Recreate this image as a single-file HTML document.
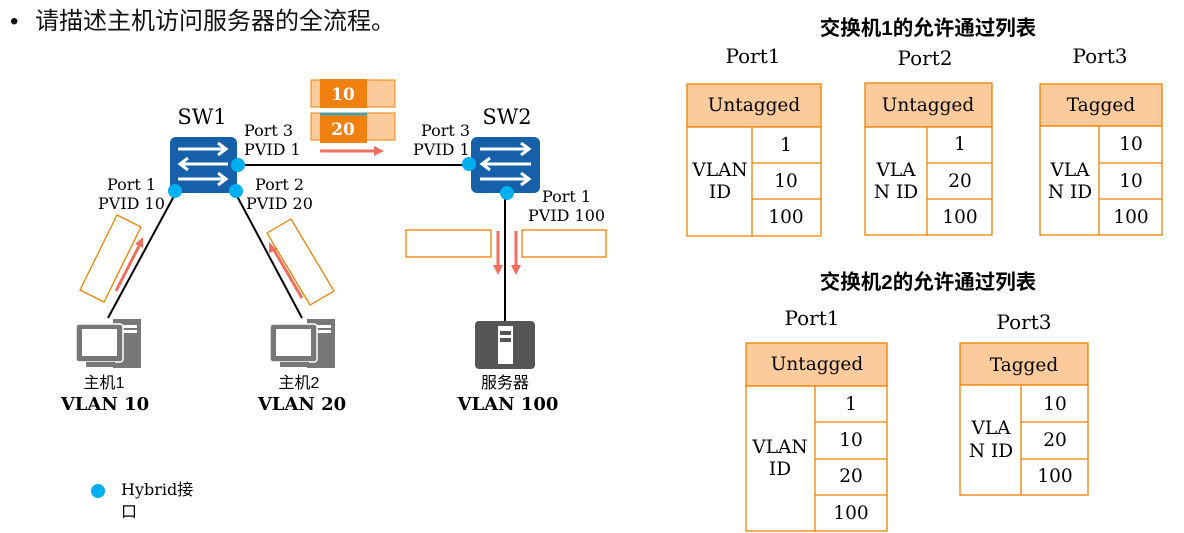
<!DOCTYPE html>
<html><head><meta charset="utf-8"><style>
html,body{margin:0;padding:0;background:#fff;width:1184px;height:533px;overflow:hidden}
svg{display:block}
.s{font-family:"DejaVu Serif","Liberation Serif","Noto Serif CJK SC",serif}
.c{font-family:"Liberation Sans","Noto Sans CJK SC",sans-serif}
</style></head><body>
<svg width="1184" height="533" viewBox="0 0 1184 533" xmlns="http://www.w3.org/2000/svg">
<text x="10" y="29" class="c" font-size="24" fill="#111">•</text>
<text x="35" y="29" class="c" font-size="24" fill="#111">请描述主机访问服务器的全流程。</text>

<!-- links -->
<line x1="238" y1="165" x2="469" y2="165" stroke="#000" stroke-width="2"/>
<line x1="174" y1="196" x2="108" y2="318" stroke="#000" stroke-width="2"/>
<line x1="237" y1="196" x2="302" y2="318" stroke="#000" stroke-width="2"/>
<line x1="505" y1="196" x2="505" y2="321" stroke="#000" stroke-width="2"/>

<!-- switches -->
<rect x="170" y="137" width="67" height="56" rx="6" fill="#1560a8"/>
<g stroke="#fff" stroke-width="3" fill="none">
<path d="M178 149H226M218 143L226 149L218 155"/>
<path d="M228 164H180M188 158L180 164L188 170"/>
<path d="M178 179H226M218 173L226 179L218 185"/>
</g>
<rect x="471" y="137" width="69" height="56" rx="6" fill="#1560a8"/>
<g stroke="#fff" stroke-width="3" fill="none">
<path d="M480 149H529M521 143L529 149L521 155"/>
<path d="M531 164H482M490 158L482 164L490 170"/>
<path d="M480 179H529M521 173L529 179L521 185"/>
</g>
<g fill="#00b0f0">
<circle cx="238" cy="165" r="7"/><circle cx="175" cy="191" r="7"/><circle cx="236" cy="191" r="7"/>
<circle cx="469" cy="164" r="7"/><circle cx="507" cy="193" r="7"/>
</g>

<g class="s" fill="#000">
<text x="202" y="124" font-size="21" text-anchor="middle">SW1</text>
<text x="507" y="124" font-size="21" text-anchor="middle">SW2</text>
<g font-size="16">
<text x="244" y="136">Port 3</text><text x="244" y="155">PVID 1</text>
<text x="421" y="136">Port 3</text><text x="413" y="155">PVID 1</text>
<text x="107" y="190">Port 1</text><text x="98" y="209">PVID 10</text>
<text x="255" y="190">Port 2</text><text x="246" y="209">PVID 20</text>
<text x="542" y="202">Port 1</text><text x="528" y="221">PVID 100</text>
</g>
</g>

<!-- tags -->
<rect x="311" y="80" width="84" height="27" fill="#fbcb9c" stroke="#f08000"/>
<rect x="320" y="79" width="47" height="29" fill="#f08010"/>
<text x="343" y="100" class="s" font-size="17" font-weight="bold" fill="#fff" text-anchor="middle">10</text>
<rect x="311" y="113" width="84" height="27" fill="#fbcb9c" stroke="#f08000"/>
<rect x="320" y="113" width="47" height="2" fill="#00b0f0"/>
<rect x="320" y="115" width="47" height="28" fill="#f08010"/>
<text x="343" y="135" class="s" font-size="17" font-weight="bold" fill="#fff" text-anchor="middle">20</text>

<!-- red arrows -->
<g stroke="#ef6e5e" stroke-width="3" fill="#ef6e5e">
<line x1="320" y1="151" x2="375" y2="151"/><path d="M374 146L384 151L374 156Z" stroke="none"/>
<line x1="116" y1="291" x2="139" y2="246"/><path d="M135 244L143 237L143 248Z" stroke="none"/>
<line x1="302" y1="298" x2="274" y2="250"/><path d="M277 250L269 242L269 253Z" stroke="none"/>
<line x1="498" y1="231" x2="498" y2="266"/><path d="M493 265L498 275L503 265Z" stroke="none"/>
<line x1="516" y1="231" x2="516" y2="266"/><path d="M511 265L516 275L521 265Z" stroke="none"/>
</g>
<g fill="none" stroke="#f08000" stroke-width="1.3">
<polygon points="80,290 104,302 141,227 117,215"/>
<polygon points="267,233 291,219 334,291 310,305"/>
<rect x="406" y="230" width="85" height="27"/>
<rect x="522" y="230" width="84" height="27"/>
</g>

<!-- computers -->
<g id="pc">
<rect x="113" y="319" width="28" height="49" fill="#777"/>
<rect x="116" y="325" width="21" height="3" fill="#fff"/>
<rect x="116" y="330" width="21" height="3" fill="#fff"/>
<rect x="76" y="324" width="47" height="38" rx="3" fill="#777" stroke="#fff" stroke-width="1.5"/>
<rect x="82" y="329" width="35" height="27" fill="#fff"/>
<rect x="86" y="362" width="29" height="5" fill="#777"/>
</g>
<use href="#pc" x="194"/>
<rect x="475" y="321" width="60" height="48" rx="4" fill="#555"/>
<rect x="498" y="326" width="15" height="38" fill="#fff"/>
<rect x="500" y="331" width="11" height="4" fill="#555"/>
<rect x="500" y="338" width="11" height="4" fill="#555"/>

<g fill="#000" text-anchor="middle">
<text x="104" y="388" class="c" font-size="16">主机1</text>
<text x="299" y="388" class="c" font-size="16">主机2</text>
<text x="505" y="388" class="c" font-size="16">服务器</text>
<text x="105" y="410" class="s" font-size="18" font-weight="bold">VLAN 10</text>
<text x="302" y="410" class="s" font-size="18" font-weight="bold">VLAN 20</text>
<text x="508" y="410" class="s" font-size="18" font-weight="bold">VLAN 100</text>
</g>

<circle cx="98" cy="491" r="7" fill="#00b0f0"/>
<text x="121" y="495" class="s" font-size="16">Hybrid<tspan class="c">接</tspan></text>
<text x="121" y="517" class="c" font-size="16">口</text>

<!-- table titles -->
<g class="c" font-weight="bold" font-size="20.5" text-anchor="middle" fill="#000">
<text x="928" y="35">交换机1的允许通过列表</text>
<text x="928" y="289">交换机2的允许通过列表</text>
</g>
<g class="s" font-size="20" text-anchor="middle" fill="#000">
<text x="753" y="63">Port1</text><text x="925" y="65">Port2</text><text x="1100" y="63">Port3</text>
<text x="812" y="325">Port1</text><text x="1024" y="329">Port3</text>
</g>

<g fill="#fff" stroke="#f08000" stroke-width="1.3">
<rect x="687" y="84" width="134" height="43" fill="#fbcb9c"/>
<rect x="687" y="127" width="134" height="109"/>
<path d="M752 127V236M752 163H821M752 199H821"/>
<rect x="865" y="83" width="127" height="44" fill="#fbcb9c"/>
<rect x="865" y="127" width="127" height="108"/>
<path d="M927 127V235M927 163H992M927 199H992"/>
<rect x="1040" y="84" width="122" height="42" fill="#fbcb9c"/>
<rect x="1040" y="126" width="122" height="109"/>
<path d="M1099 126V235M1099 163H1162M1099 199H1162"/>
<rect x="746" y="343" width="141" height="43" fill="#fbcb9c"/>
<rect x="746" y="386" width="141" height="145"/>
<path d="M815 386V531M815 422H887M815 459H887M815 495H887"/>
<rect x="960" y="343" width="128" height="42" fill="#fbcb9c"/>
<rect x="960" y="385" width="128" height="110"/>
<path d="M1021 385V495M1021 422H1088M1021 459H1088"/>
</g>

<g class="s" font-size="18.5" text-anchor="middle" fill="#000">
<text x="754" y="111">Untagged</text>
<text x="786" y="151">1</text><text x="786" y="187">10</text><text x="786" y="223">100</text>
<text x="720" y="176">VLAN</text><text x="720" y="198">ID</text>
<text x="928" y="111">Untagged</text>
<text x="960" y="150">1</text><text x="960" y="187">20</text><text x="960" y="223">100</text>
<text x="896" y="176">VLA</text><text x="896" y="198">N ID</text>
<text x="1101" y="111">Tagged</text>
<text x="1131" y="150">10</text><text x="1131" y="187">10</text><text x="1131" y="223">100</text>
<text x="1070" y="176">VLA</text><text x="1070" y="198">N ID</text>

<text x="817" y="370">Untagged</text>
<text x="851" y="410">1</text><text x="851" y="446">10</text><text x="851" y="482">20</text><text x="851" y="519">100</text>
<text x="780" y="453">VLAN</text><text x="780" y="475">ID</text>
<text x="1024" y="371">Tagged</text>
<text x="1055" y="410">10</text><text x="1055" y="446">20</text><text x="1055" y="482">100</text>
<text x="991" y="434">VLA</text><text x="991" y="457">N ID</text>
</g>
</svg>
</body></html>
